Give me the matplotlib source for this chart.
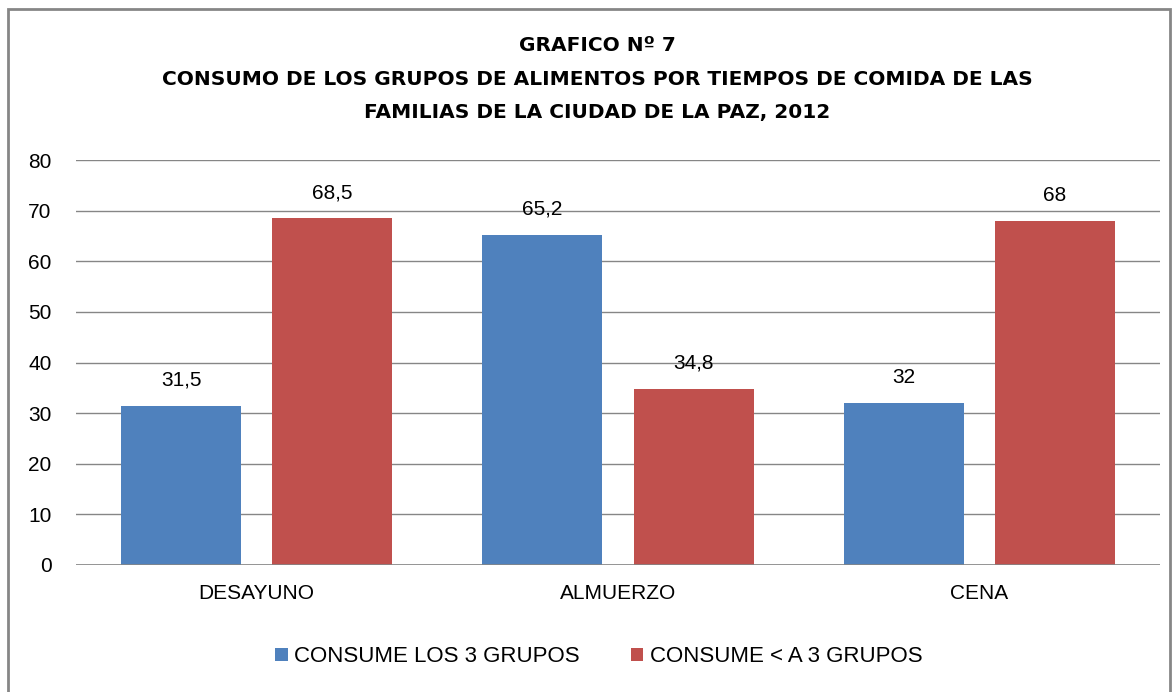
import matplotlib
matplotlib.use("Agg")
import matplotlib.pyplot as plt
import numpy as np
from matplotlib.patches import Rectangle

categories = ["DESAYUNO", "ALMUERZO", "CENA"]
serie_3 = [31.5, 65.2, 32]
serie_menos3 = [68.5, 34.8, 68]
labels_3 = ["31,5", "65,2", "32"]
labels_menos3 = ["68,5", "34,8", "68"]
series_names = ["CONSUME LOS 3 GRUPOS", "CONSUME < A 3 GRUPOS"]
yticks = [0, 10, 20, 30, 40, 50, 60, 70, 80]
title = ("GRAFICO Nº 7\nCONSUMO DE LOS GRUPOS DE ALIMENTOS POR TIEMPOS DE COMIDA DE LAS\n"
         "FAMILIAS DE LA CIUDAD DE LA PAZ, 2012")

blue = "#4F81BD"
red = "#C0504D"
font = "Liberation Sans Narrow"
plt.rcParams['font.family'] = [font, 'Liberation Sans', 'DejaVu Sans']

fig = plt.figure(figsize=(11.72, 6.92), dpi=100)
fig.patches.append(Rectangle((8/1172, -0.1), (1170-8)/1172, 1.1 - 9/692,
                             transform=fig.transFigure, fill=False,
                             edgecolor="#868686", linewidth=2))
ax = fig.add_axes([76/1172, 1 - 565/692, (1160-76)/1172, (565-160)/692])

x = np.arange(len(categories))
w = 0.332
off = 0.209
b1 = ax.bar(x - off, serie_3, w, color=blue, label=series_names[0], zorder=3)
b2 = ax.bar(x + off, serie_menos3, w, color=red, label=series_names[1], zorder=3)
for rect, lab in zip(b1, labels_3):
    ax.text(rect.get_x() + rect.get_width()/2, rect.get_height() + 3.2, lab,
            ha="center", va="bottom", fontsize=15)
for rect, lab in zip(b2, labels_menos3):
    ax.text(rect.get_x() + rect.get_width()/2, rect.get_height() + 3.2, lab,
            ha="center", va="bottom", fontsize=15)

ax.set_xlim(-0.5, 2.5)
ax.set_ylim(0, 80)
ax.set_yticks(yticks)
ax.set_yticklabels([str(v) for v in yticks], fontsize=15)
ax.set_xticks(x)
ax.set_xticklabels(categories, fontsize=15)
ax.tick_params(axis="both", length=0)
ax.tick_params(axis="y", pad=17.5)
ax.tick_params(axis="x", pad=14)
ax.grid(axis="y", color="#868686", linewidth=1, zorder=0)
for s in ax.spines.values():
    s.set_visible(False)
ax.axhline(0, color="#868686", linewidth=1.2, zorder=4)

fig.text(597/1172, 1 - 36/692, title, ha="center", va="top", fontsize=14.5,
         fontweight="bold", linespacing=1.97, family=['Liberation Sans Narrow', 'DejaVu Sans'])

handles, labs = ax.get_legend_handles_labels()
leg = fig.legend(handles, labs, loc="center", bbox_to_anchor=(599/1172, 1 - 657/692),
                 ncol=2, frameon=False, fontsize=16, handlelength=0.55, handleheight=0.55,
                 handletextpad=0.3, columnspacing=2.3)

fig.savefig("out.png", dpi=100)
